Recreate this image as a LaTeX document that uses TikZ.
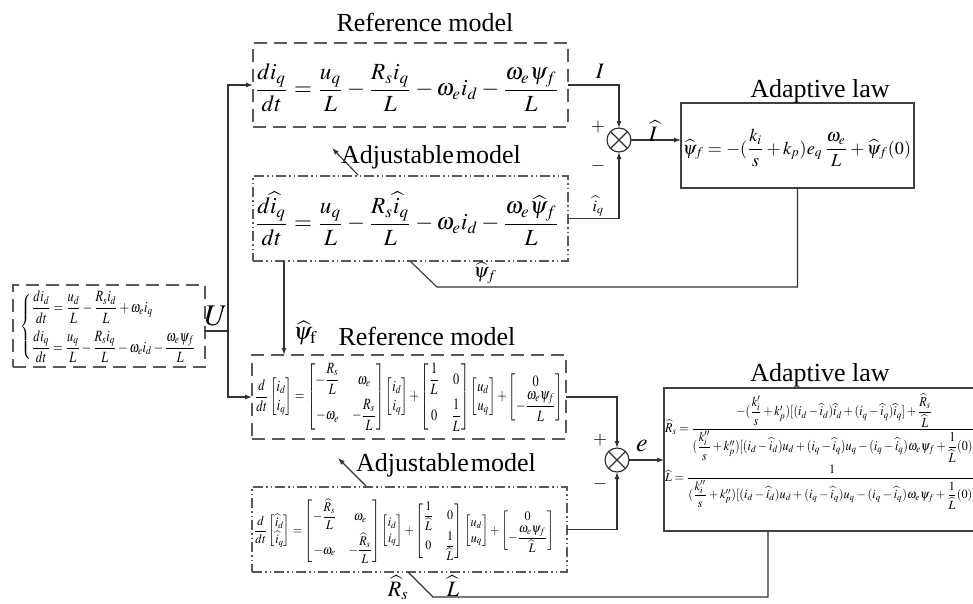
\documentclass[tikz,border=0pt]{standalone}
\usepackage{amsmath}
\usepackage{mathptmx}
\usepackage{graphicx}
\usepackage{fontspec}
\setmainfont{Liberation Serif}
\usetikzlibrary{arrows.meta,calc}
\newcommand{\myfs}[1]{\fontsize{#1}{#1}\selectfont}
\newcommand{\hh}[1]{\widehat{#1}}
\begin{document}
\begin{tikzpicture}[x=1pt,y=-1pt,
  conn/.style={draw=black!80,line width=1.1pt},
  arr/.style={conn,-{Latex[length=7pt,width=5pt]}},
  boxbase/.style={inner sep=0pt,outer sep=0pt,line width=1.2pt},
  dashbox/.style={boxbase,draw=black!65,dash pattern=on 13pt off 7pt},
  dotbox/.style={boxbase,draw=black!65,dash pattern=on 10pt off 3pt on 1.5pt off 3pt on 1.5pt off 3pt},
  lawbox/.style={boxbase,draw=black!75},
  title/.style={inner sep=0pt,font=\myfs{26}},
  lbl/.style={inner sep=0pt},
  sumc/.style={circle,draw=black!85,line width=1.1pt,minimum size=24pt,inner sep=0pt,outer sep=0pt}
]
\useasboundingbox[fill=white] (0,0) rectangle (973,603);

% ---------- boxes ----------
\node[dashbox,minimum width=192pt,minimum height=82pt] (left) at (109,326) {};
\node[dashbox,minimum width=315pt,minimum height=84pt] (refA) at (410.5,85) {};
\node[dotbox,minimum width=315pt,minimum height=85pt] (adjA) at (410.5,218.5) {};
\node[dashbox,minimum width=314pt,minimum height=84pt] (refB) at (409,397) {};
\node[dotbox,minimum width=315pt,minimum height=85pt] (adjB) at (409.5,529.5) {};
\node[lawbox,minimum width=233pt,minimum height=85pt] (lawA) at (797.5,145.5) {};
\node[lawbox,minimum width=326pt,minimum height=143pt] (lawB) at (827,459.5) {};
\node[sumc] (sumA) at (619,140) {};
\node[sumc] (sumB) at (617,460) {};
\draw[conn] (sumA.north west) -- (sumA.south east) (sumA.north east) -- (sumA.south west);
\draw[conn] (sumB.north west) -- (sumB.south east) (sumB.north east) -- (sumB.south west);

% ---------- titles ----------
\node[title] (tRefA) at (425,22) {Reference model};
\node[title] (tAdjA) at (431,157) {Adjustable\kern2pt model};
\node[title] (tLawA) at (820,91) {Adaptive law};
\node[title] (tRefB) at (427,336) {Reference model};
\node[title] (tAdjB) at (446,465) {Adjustable\kern2pt model};
\node[title] (tLawB) at (820,375) {Adaptive law};

% ---------- equations ----------
\node[lbl] (eqLeft) at (109,327) {\resizebox*{176pt}{72pt}{$\left\{\begin{array}{@{}l@{}}
 \dfrac{di_d}{dt}=\dfrac{u_d}{L}-\dfrac{R_s i_d}{L}+\omega_e i_q\\[8pt]
 \dfrac{di_q}{dt}=\dfrac{u_q}{L}-\dfrac{R_s i_q}{L}-\omega_e i_d-\dfrac{\omega_e\psi_f}{L}
 \end{array}\right.$}};
\node[lbl] (eqRefA) at (407,88) {\resizebox{305pt}{!}{$\displaystyle
 \frac{di_q}{dt}=\frac{u_q}{L}-\frac{R_s i_q}{L}-\omega_e i_d-\frac{\omega_e\psi_f}{L}$}};
\node[lbl] (eqAdjA) at (407,219) {\resizebox{305pt}{!}{$\displaystyle
 \frac{d\hh{i}_q}{dt}=\frac{u_q}{L}-\frac{R_s \hh{i}_q}{L}-\omega_e i_d-\frac{\omega_e\hh{\psi}_f}{L}$}};
\node[lbl] (eqLawA) at (797,148) {\resizebox{228pt}{!}{$\displaystyle
 \hh{\psi}_f=-(\frac{k_i}{s}+k_p)e_q\,\frac{\omega_e}{L}+\hh{\psi}_f(0)$}};
\node[lbl] (eqRefB) at (409,397) {\resizebox*{308pt}{68pt}{$\displaystyle
 \frac{d}{dt}\begin{bmatrix} i_d\\ i_q\end{bmatrix}=
 \begin{bmatrix} -\dfrac{R_s}{L} & \omega_e\\[6pt] -\omega_e & -\dfrac{R_s}{L}\end{bmatrix}
 \begin{bmatrix} i_d\\ i_q\end{bmatrix}+
 \begin{bmatrix} \dfrac{1}{L} & 0\\[6pt] 0 & \dfrac{1}{L}\end{bmatrix}
 \begin{bmatrix} u_d\\ u_q\end{bmatrix}+
 \begin{bmatrix} 0\\ -\dfrac{\omega_e\psi_f}{L}\end{bmatrix}$}};
\node[lbl] (eqAdjB) at (404,531) {\resizebox*{300pt}{64pt}{$\displaystyle
 \frac{d}{dt}\begin{bmatrix} \hh{i}_d\\ \hh{i}_q\end{bmatrix}=
 \begin{bmatrix} -\dfrac{\hh{R}_s}{L} & \omega_e\\[6pt] -\omega_e & -\dfrac{\hh{R}_s}{L}\end{bmatrix}
 \begin{bmatrix} i_d\\ i_q\end{bmatrix}+
 \begin{bmatrix} \dfrac{1}{\hh{L}} & 0\\[6pt] 0 & \dfrac{1}{\hh{L}}\end{bmatrix}
 \begin{bmatrix} u_d\\ u_q\end{bmatrix}+
 \begin{bmatrix} 0\\ -\dfrac{\omega_e\psi_f}{\hh{L}}\end{bmatrix}$}};
\node[lbl,anchor=west] (eqLawB1) at (665,428) {\resizebox*{312pt}{68pt}{$\displaystyle
 \hh{R}_s=\frac{-(\dfrac{k_i'}{s}+k_p')[(i_d-\hh{i}_d)\hh{i}_d+(i_q-\hh{i}_q)\hh{i}_q]+\dfrac{\hh{R}_s}{\hh{L}}}
 {(\dfrac{k_i''}{s}+k_p'')[(i_d-\hh{i}_d)u_d+(i_q-\hh{i}_q)u_q-(i_q-\hh{i}_q)\omega_e\psi_f+\dfrac{1}{\hh{L}}(0)]}$}};
\node[lbl,anchor=west] (eqLawB2) at (665,487) {\resizebox*{312pt}{44pt}{$\displaystyle
 \hh{L}=\frac{1}
 {(\dfrac{k_i''}{s}+k_p'')[(i_d-\hh{i}_d)u_d+(i_q-\hh{i}_q)u_q-(i_q-\hh{i}_q)\omega_e\psi_f+\dfrac{1}{\hh{L}}(0)]}$}};

% ---------- connectors ----------
\coordinate (tU) at (228,331);
\draw[conn] (left.east |- tU) -- (tU);
\draw[arr] (tU) |- (refA.west);
\draw[arr] (tU) |- (refB.west);
\node[lbl] (lblU) at (216,316) {\myfs{30}$U$};

\draw[arr] (refA.east) -| (sumA.north);
\draw[arr] (adjA.east) -| (sumA.south);
\draw[arr] (sumA.east) -- (sumA.east -| lawA.west);
\node[lbl] (lblI) at (600,71) {\myfs{22}$I$};
\node[lbl] (lblIh) at (653,131) {\myfs{22}$\hh{I}$};
\node[lbl] (lbliq) at (598,206) {\myfs{16}$\hh{i}_q$};
\node[lbl] (plusA) at (598,127) {\myfs{18}$+$};
\node[lbl] (minusA) at (598,166) {\myfs{18}$-$};

\coordinate (fbA1) at (437,287);
\coordinate (fbA2) at (410,261);
\draw[conn] (lawA.south) |- (fbA1) -- (fbA2);
\node[lbl] (lblpsiA) at (485,273) {\myfs{20}$\hh{\psi}_f$};

\coordinate (x284) at (284,0);
\draw[arr] (adjA.south -| x284) -- (refB.north -| x284);
\node[lbl] (lblpsiB) at (305,333) {\myfs{24}$\hh{\psi}_{\mathrm{f}}$};

\coordinate (adjArrA1) at (358,175);
\coordinate (adjArrA2) at (332,148);
\draw[arr] (adjArrA1) -- (adjArrA2);
\coordinate (adjArrB1) at (366,486);
\coordinate (adjArrB2) at (338,458);
\draw[arr] (adjArrB1) -- (adjArrB2);

\draw[arr] (refB.east) -| (sumB.north);
\draw[arr] (adjB.east) -| (sumB.south);
\draw[arr] (sumB.east) -- (sumB.east -| lawB.west);
\node[lbl] (lble) at (642,446) {\myfs{26}$e$};
\node[lbl] (plusB) at (600,440) {\myfs{18}$+$};
\node[lbl] (minusB) at (600,484) {\myfs{18}$-$};

\coordinate (x768) at (768,0);
\coordinate (fbB1) at (433,597);
\coordinate (fbB2) at (408,572);
\draw[conn] (lawB.south -| x768) |- (fbB1) -- (fbB2);
\node[lbl] (lblRs) at (398,588) {\myfs{22}$\hh{R}_s$};
\node[lbl] (lblL) at (453,586) {\myfs{22}$\hh{L}$};
\end{tikzpicture}
\end{document}
